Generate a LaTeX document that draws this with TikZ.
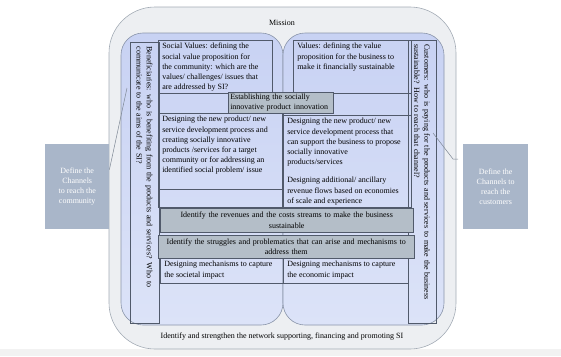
\documentclass[tikz,border=0pt]{standalone}
\usepackage{fontspec}
\setmainfont{Liberation Serif}
\usetikzlibrary{positioning,calc}

\definecolor{outerfill}{HTML}{EDEFF2}
\definecolor{outerline}{HTML}{A3ABB5}
\definecolor{lobetop}{HTML}{C8D2F3}
\definecolor{lobebot}{HTML}{DCE3F8}
\definecolor{lobeline}{HTML}{8A95AA}
\definecolor{frame}{HTML}{515A6B}
\definecolor{bandfill}{HTML}{B4BEC8}
\definecolor{chanfill}{HTML}{A9B6C9}
\definecolor{linkgray}{HTML}{7D8794}

\begin{document}
\begin{tikzpicture}[x=1pt,y=-1pt,font=\fontsize{8}{10.2}\selectfont,
    lobe/.style={draw=lobeline,line width=0.6pt,rounded corners=22pt,top color=lobetop,bottom color=lobebot},
    cell/.style 2 args={draw=frame,line width=0.5pt,anchor=north west,inner xsep=4pt,inner ysep=3pt,
        execute at begin node={\begin{minipage}[c][\dimexpr#2-6pt\relax][t]{\dimexpr#1-8pt\relax}\raggedright},
        execute at end node={\end{minipage}}},
    blank/.style={draw=frame,line width=0.5pt,anchor=north west,inner sep=0pt},
    band/.style={draw=frame,line width=0.5pt,fill=bandfill,anchor=north west,inner sep=0pt},
    side/.style={draw=frame,line width=0.5pt,rotate=-90,inner sep=3pt,align=left},
    chan/.style={fill=chanfill,text=white,align=center,inner sep=0pt,minimum width=64pt,minimum height=85pt,anchor=north west},
    link/.style={draw=linkgray,line width=0.5pt}]
    \useasboundingbox (0,0) rectangle (561,356);
    \fill[gray!10] (0,349) rectangle (561,356);

    % frame and the two halves
    \draw[outerline,fill=outerfill,line width=0.6pt,rounded corners=46pt] (109,7) rectangle (456,349);
    \path[lobe] (121,33) rectangle (283,325);
    \path[lobe] (283,33) rectangle (444,325);
    \node (mission) at (282,23) {Mission};
    \node (network) at (282,337) {Identify and strengthen the network supporting, financing and promoting SI};

    % side columns
    \node[side,minimum width=281pt,minimum height=29pt,text width=272pt] (benef) at (144.5,182.5)
        {Beneficiaries: who is benefiting from the products and services? Who to\\
         communicate to the aims of the SI?};
    \node[side,minimum width=283pt,minimum height=28pt,text width=274pt] (cust) at (422,181.5)
        {Customers: who is paying for the products and services to make the business\\
         sustainable? How to reach that channel?};

    % value propositions
    \node[cell={114pt}{53pt}] (socval) at (158,40)
        {Social Values: defining the\\ social value proposition for\\ the community: which are the\\
         values/ challenges/ issues that\\ are addressed by SI?};
    \node[cell={118pt}{53pt}] (bizval) at (293,40)
        {Values: defining the value\\ proposition for the business to\\ make it financially sustainable};
    \node[blank,minimum width=124pt,minimum height=20pt] (gapL) at (158,93) {};
    \node[blank,minimum width=128pt,minimum height=22pt] (gapR) at (283,93) {};

    % development process
    \node[cell={124pt}{76pt}] (devL) at (158,113)
        {Designing the new product/ new\\ service development process and\\ creating socially innovative\\
         products /services for a target\\ community or for addressing an\\ identified social problem/ issue};
    \node[blank,minimum width=124pt,minimum height=18pt] (gapL2) at (158,189) {};
    \node[cell={128pt}{92pt}] (devR) at (283,115)
        {Designing the new product/ new\\ service development process that\\ can support the business to propose\\
         socially innovative\\ products/services\\[8pt]
         Designing additional/ ancillary\\ revenue flows based on economies\\ of scale and experience};
    \node[band,minimum height=21pt,align=left,inner xsep=2pt,inner ysep=1pt,text width=101pt] (estab) at (228,92)
        {Establishing the socially\\ innovative product innovation};

    % revenues, struggles, impact
    \node[band,minimum width=253pt,minimum height=24pt,align=center,text width=245pt] (rev) at (160,208)
        {Identify the revenues and the costs streams to make the business\\ sustainable};
    \node[band,minimum width=256pt,minimum height=23pt,align=center,text width=248pt] (strug) at (158,235)
        {Identify the struggles and problematics that can arise and mechanisms to\\ address them};
    \node[cell={123pt}{25pt}] (impL) at (160,258)
        {Designing mechanisms to capture\\ the societal impact};
    \node[cell={125pt}{25pt}] (impR) at (283,258)
        {Designing mechanisms to capture\\ the economic impact};

    % channels
    \node[chan] (defL) at (45,144) {Define the\\ Channels\\ to reach the\\ community};
    \node[chan,minimum width=65pt] (defR) at (463,144) {Define the\\ Channels to\\ reach the\\ customers};

    \coordinate (tipL) at (127,88);
    \coordinate (tipR) at (433,133);
    \coordinate (kneeR) at (453,159);
    \draw[link] ($(defL.north east)!0.3!(defL.south east)$) -- (tipL);
    \draw[link,shorten >=5pt] (tipR) -- (kneeR) -- (defR.west |- kneeR);
\end{tikzpicture}
\end{document}
